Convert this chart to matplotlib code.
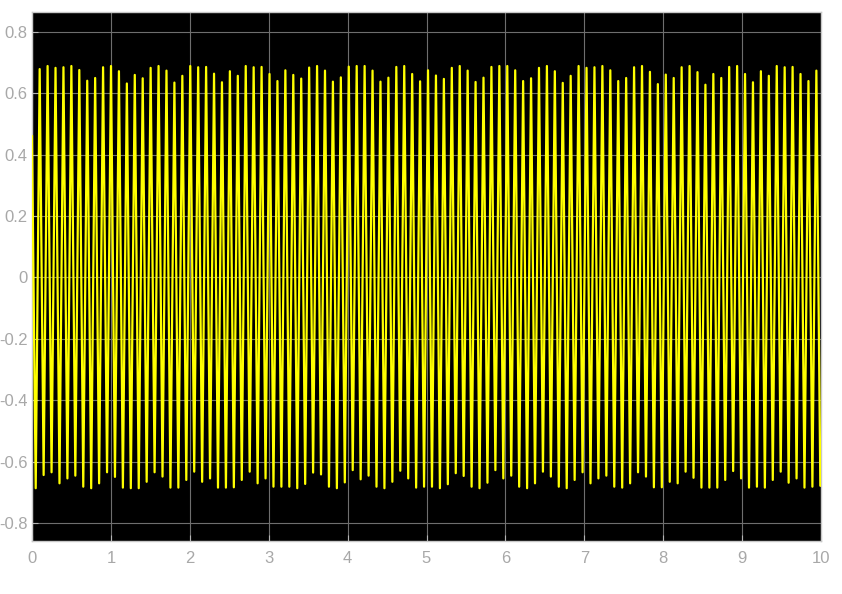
import numpy as np
import matplotlib
matplotlib.use("Agg")
import matplotlib.pyplot as plt

# valores de los picos (maximos), uno por ciclo
picos = [
    0.679, 0.689, 0.683, 0.685, 0.689, 0.676, 0.641, 0.650, 0.685, 0.689,
    0.672, 0.632, 0.660, 0.649, 0.683, 0.689, 0.674, 0.635, 0.657, 0.689,
    0.685, 0.686, 0.664, 0.636,
    0.672, 0.657, 0.689, 0.685, 0.686, 0.663, 0.640, 0.675, 0.660, 0.648,
    0.684, 0.689, 0.674, 0.638, 0.652, 0.687, 0.689, 0.689, 0.674, 0.638,
    0.651, 0.686, 0.689, 0.663, 0.639,
    0.675, 0.658, 0.647, 0.683, 0.689, 0.674, 0.637, 0.651, 0.686, 0.689,
    0.689, 0.675, 0.640, 0.649, 0.683, 0.689, 0.672, 0.634, 0.657, 0.689,
    0.683, 0.685, 0.689, 0.675, 0.640,
    0.650, 0.685, 0.689, 0.670, 0.630, 0.661, 0.650, 0.685, 0.689, 0.669,
    0.628, 0.663, 0.650, 0.686, 0.689, 0.663, 0.636, 0.672, 0.657, 0.689,
    0.685, 0.686, 0.663, 0.640, 0.674,
]

# valores de los valles (minimos)
valles = [
    -0.687, -0.644, -0.635, -0.671, -0.655, -0.646, -0.682, -0.687, -0.671, -0.635,
    -0.650, -0.685, -0.687, -0.687, -0.666, -0.635, -0.649, -0.685, -0.685, -0.660,
    -0.633, -0.666, -0.655, -0.685, -0.685,
    -0.684, -0.660, -0.633, -0.671, -0.655, -0.682, -0.682, -0.682, -0.687, -0.673,
    -0.636, -0.642, -0.682, -0.687, -0.668, -0.628, -0.658, -0.646, -0.682, -0.687,
    -0.666, -0.630, -0.655, -0.685, -0.682,
    -0.682, -0.687, -0.674, -0.638, -0.647, -0.682, -0.687, -0.669, -0.628, -0.655,
    -0.646, -0.682, -0.687, -0.671, -0.633, -0.649, -0.682, -0.687, -0.660, -0.635,
    -0.671, -0.655, -0.646, -0.682, -0.685,
    -0.671, -0.635, -0.649, -0.684, -0.684, -0.666, -0.671, -0.633, -0.653, -0.685,
    -0.685, -0.685, -0.660, -0.631, -0.655, -0.685, -0.682, -0.685, -0.660, -0.633,
    -0.669, -0.655, -0.685, -0.682, -0.679,
]

valor_inicial = 0.46
t_primer_valle = 0.047
medio_periodo = 0.050225
xticks = list(range(0, 11))
yticks = [-0.8, -0.6, -0.4, -0.2, 0, 0.2, 0.4, 0.6, 0.8]
yticklabels = ["-0.8", "-0.6", "-0.4", "-0.2", "0", "0.2", "0.4", "0.6", "0.8"]

# intercalar valles y picos
extremos = []
for i in range(len(valles)):
    extremos.append(valles[i])
    if i < len(picos):
        extremos.append(picos[i])
t_ext = t_primer_valle + medio_periodo * np.arange(len(extremos))

t = np.concatenate([[0.0], t_ext, [10.0]])
y = np.concatenate([[valor_inicial], extremos, [extremos[-1]]])

plt.rcParams["font.family"] = ["Liberation Sans", "DejaVu Sans"]

fig = plt.figure(figsize=(8.42, 5.94), dpi=100, facecolor="white")
ax = fig.add_axes([32 / 842, 53 / 594, 789 / 842, 529 / 594])
ax.set_facecolor("black")

ax.plot(t, y, color="#ffff00", linewidth=1.6, zorder=3)

ax.set_xlim(0, 10)
ax.set_ylim(-0.859, 0.865)
ax.set_xticks(xticks)
ax.set_yticks(yticks)
ax.set_yticklabels(yticklabels)
ax.grid(True, color="#6e6e6e", linewidth=0.8, zorder=1)

for s in ax.spines.values():
    s.set_color("#c8c8c8")
    s.set_linewidth(1.0)
ax.tick_params(axis="both", colors="#b4b4b4", labelsize=12, direction="in",
               length=4, width=0.8, pad=3)
ax.tick_params(axis="x", pad=7)
for lbl in ax.get_xticklabels() + ax.get_yticklabels():
    lbl.set_color("#a8a8a8")

fig.savefig("out.png", dpi=100, facecolor="white")
